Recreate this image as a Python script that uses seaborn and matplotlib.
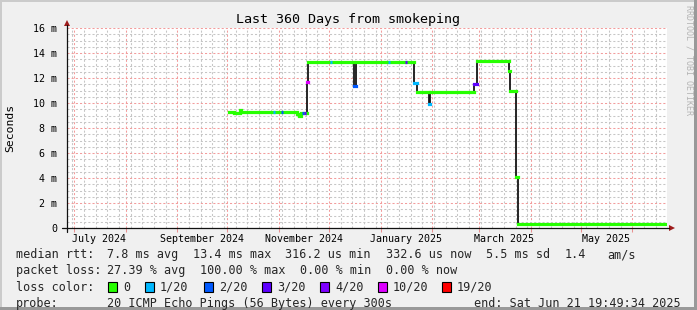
import matplotlib
matplotlib.use("Agg")
import matplotlib.pyplot as plt
import matplotlib.dates as mdates
from matplotlib.patches import Rectangle, Polygon
from matplotlib.ticker import MultipleLocator, FuncFormatter, NullFormatter
import pandas as pd
import seaborn as sns

# ---------------- data ----------------
end_time = pd.Timestamp("2025-06-21 19:49:34")
span_days = 360

# median rtt plateaus (start time, value in ms, loss class index)
step_starts = [
    "2024-10-02 00:00", "2024-10-05 00:00", "2024-10-08 12:00", "2024-10-09 12:00",
    "2024-11-12 00:00", "2024-11-13 00:00", "2024-11-14 00:00", "2024-11-18 00:00",
    "2024-11-18 12:00", "2024-12-16 00:00", "2024-12-17 00:00", "2025-01-21 00:00",
    "2025-01-23 00:00", "2025-01-30 00:00", "2025-01-30 12:00", "2025-02-26 00:00",
    "2025-02-28 00:00", "2025-03-18 18:00", "2025-03-19 12:00", "2025-03-23 00:00",
    "2025-03-24 06:00",
]
last_sample = "2025-06-21 12:00"
step_ms = [9.30, 9.22, 9.45, 9.30, 9.12, 9.00, 9.22, 11.7, 13.30, 11.35, 13.25,
           11.6, 10.9, 9.95, 10.9, 11.5, 13.38, 12.6, 11.0, 4.1, 0.33]
step_loss = [0, 0, 0, 0, 0, 0, 0, 5, 0, 2, 0, 1, 0, 1, 0, 3, 0, 0, 0, 0, 0]

# short loss episodes on the plateaus
speck_times = ["2024-10-29 00:00", "2024-11-03 00:00", "2024-11-15 10:00", "2024-11-16 16:00",
               "2024-12-02 00:00", "2025-01-06 00:00", "2025-01-16 00:00"]
speck_ms = [9.30, 9.30, 9.22, 9.22, 13.30, 13.25, 13.25]
speck_loss = [1, 2, 2, 3, 1, 1, 3]

loss_labels = ["0", "1/20", "2/20", "3/20", "4/20", "10/20", "19/20"]
loss_colors = ["#26ff00", "#00b8ff", "#0059ff", "#5e00ff", "#7e00ff", "#dd00ff", "#ff0000"]

month_labels = ["July 2024", "September 2024", "November 2024",
                "January 2025", "March 2025", "May 2025"]
month_label_dates = ["2024-07-16", "2024-09-16", "2024-11-16",
                     "2025-01-16", "2025-03-16", "2025-05-16"]

title = "Last 360 Days from smokeping"
rtt_stats = ["7.8 ms avg", "13.4 ms max", "316.2 us min", "332.6 us now", "5.5 ms sd", "1.4", "am/s"]
loss_stats = ["27.39 % avg", "100.00 % max", "0.00 % min", "0.00 % now"]
probe_text = "20 ICMP Echo Pings (56 Bytes) every 300s"
end_text = "end: Sat Jun 21 19:49:34 2025"

# ---------------- figure ----------------
sns.set_theme(style="white")
plt.rcParams["font.family"] = ["DejaVu Sans Mono", "DejaVu Sans"]

W, H = 697, 310
fig = plt.figure(figsize=(W / 100, H / 100), dpi=100)
fig.patch.set_facecolor("#f0f0f0")


def fx(x):
    return x / W


def fy(y):
    return 1 - y / H


ax = fig.add_axes([fx(67), fy(228), 600 / W, 200 / H])
ax.set_facecolor("white")

start_time = end_time - pd.Timedelta(days=span_days)
starts = pd.to_datetime(step_starts, format="%Y-%m-%d %H:%M")
ends = list(starts[1:]) + [pd.Timestamp(last_sample)]

xs, ys = [], []
for s, e, v in zip(starts, ends, step_ms):
    xs += [s, e]
    ys += [v, v]
df = pd.DataFrame({"time": xs, "ms": ys})

sns.lineplot(data=df, x="time", y="ms", estimator=None, sort=False,
             color="#151515", lw=1.3, ax=ax, zorder=3)

lc = ax.hlines(step_ms, starts, ends, colors=[loss_colors[l] for l in step_loss],
               lw=2.3, zorder=4)
lc.set_capstyle("projecting")

sp_t = pd.to_datetime(speck_times, format="%Y-%m-%d %H:%M")
half = pd.Timedelta(hours=16)
ax.hlines(speck_ms, sp_t - half, sp_t + half,
          colors=[loss_colors[l] for l in speck_loss], lw=2.3, zorder=5)

ax.set_xlim(start_time, end_time)
ax.set_ylim(0, 16)
ax.set_xlabel("")
ax.set_ylabel("")

# grid
ax.xaxis.set_major_locator(mdates.MonthLocator())
ax.xaxis.set_minor_locator(mdates.WeekdayLocator(byweekday=mdates.SU))
ax.xaxis.set_major_formatter(NullFormatter())
ax.yaxis.set_major_locator(MultipleLocator(2))
ax.yaxis.set_minor_locator(MultipleLocator(0.5))
ax.yaxis.set_major_formatter(FuncFormatter(lambda v, p: "0" if v == 0 else f"{v:.0f} m"))

ax.grid(which="minor", color="#c6c6c6", ls=(0, (2, 2)), lw=0.75, zorder=0)
ax.grid(which="major", color="#f39c9c", ls=(0, (2, 2)), lw=0.75, zorder=1)
ax.set_axisbelow(True)

ax.tick_params(axis="x", which="major", length=3, width=0.75, color="#e89090",
               direction="out", bottom=True)
ax.tick_params(axis="x", which="minor", length=0)
ax.tick_params(axis="y", which="major", length=0, pad=7, labelsize=7.2, labelcolor="black")
ax.tick_params(axis="y", which="minor", length=0)
for s in ax.spines.values():
    s.set_visible(False)

xt = ax.get_xaxis_transform()
for d, lab in zip(month_label_dates, month_labels):
    ax.text(pd.Timestamp(d), -13.5 / 200, lab, transform=xt, ha="center", va="baseline",
            fontsize=7.2, color="black")

# axes lines and arrows
fig.add_artist(plt.Line2D([fx(62), fx(669)], [fy(228), fy(228)], color="#111111", lw=0.9))
fig.add_artist(plt.Line2D([fx(67), fx(67)], [fy(232), fy(25)], color="#111111", lw=0.9))
arrow_c = "#9e1b1b"
fig.add_artist(Polygon([[fx(669), fy(225)], [fx(669), fy(231)], [fx(675), fy(228)]],
                       closed=True, color=arrow_c, lw=0))
fig.add_artist(Polygon([[fx(64), fy(26)], [fx(70), fy(26)], [fx(67), fy(20)]],
                       closed=True, color=arrow_c, lw=0))

# texts
fig.text(fx(348), fy(23), title, ha="center", va="baseline", fontsize=9.6, color="black")
fig.text(fx(10), fy(128), "Seconds", rotation=90, ha="center", va="center",
         fontsize=8.2, color="black")
fig.text(fx(689), fy(5), "RRDTOOL / TOBI OETIKER", rotation=270, ha="center", va="top",
         fontsize=6.0, color="#b4b4b4")

LFS = 8.5
row_y = [258, 274, 291, 307]
fig.text(fx(16), fy(row_y[0]), "median rtt:", fontsize=LFS, va="baseline")
for x, t in zip([107, 193, 285, 386, 486, 565, 607], rtt_stats):
    fig.text(fx(x), fy(row_y[0]), t, fontsize=LFS, va="baseline")
fig.text(fx(16), fy(row_y[1]), "packet loss:", fontsize=LFS, va="baseline")
for x, t in zip([107, 200, 300, 386], loss_stats):
    fig.text(fx(x), fy(row_y[1]), t, fontsize=LFS, va="baseline")
fig.text(fx(16), fy(row_y[2]), "loss color:", fontsize=LFS, va="baseline")
for x, c, t in zip([108, 145, 204, 262, 320, 378, 442], loss_colors, loss_labels):
    fig.add_artist(Rectangle((fx(x), fy(row_y[2] + 0.5)), 9 / W, 10 / H,
                             facecolor=c, edgecolor="black", lw=0.8))
    fig.text(fx(x + 15), fy(row_y[2]), t, fontsize=LFS, va="baseline")
fig.text(fx(16), fy(row_y[3]), "probe:", fontsize=LFS, va="baseline")
fig.text(fx(107), fy(row_y[3]), probe_text, fontsize=LFS, va="baseline")
fig.text(fx(681), fy(row_y[3]), end_text, fontsize=LFS, va="baseline", ha="right")

# frame shading
fig.add_artist(Rectangle((0, fy(2)), 1, 2 / H, facecolor="#cbcbcb", lw=0))
fig.add_artist(Rectangle((0, 0), 2 / W, 1, facecolor="#cbcbcb", lw=0))
fig.add_artist(Rectangle((fx(694), 0), 3 / W, 1, facecolor="#999999", lw=0))
fig.add_artist(Rectangle((0, 0), 1, 3 / H, facecolor="#999999", lw=0))

fig.savefig("out.png", dpi=100, facecolor=fig.get_facecolor())
